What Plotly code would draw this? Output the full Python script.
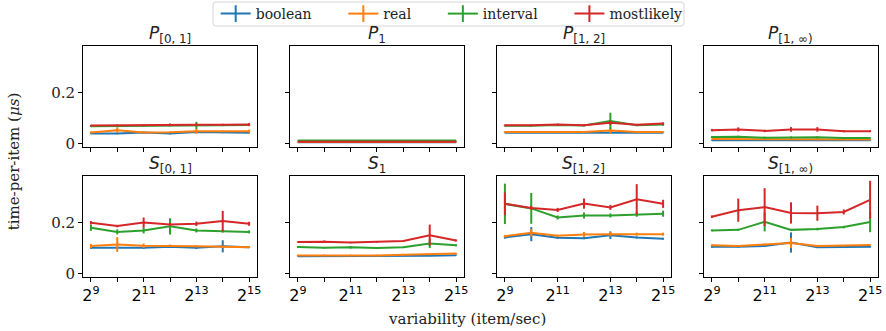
import math
import plotly.graph_objects as go
from plotly.subplots import make_subplots

# x axis: variability in items per second
variability = [512, 1024, 2048, 4096, 8192, 16384, 32768]
tick_text = ["2<sup>9</sup>", "", "2<sup>11</sup>", "", "2<sup>13</sup>", "", "2<sup>15</sup>"]

series_names = ["boolean", "real", "interval", "mostlikely"]
series_colors = ["#1f77b4", "#ff7f0e", "#2ca02c", "#d62728"]

panel_titles = [
    "<i>P</i><sub>[0, 1]</sub>", "<i>P</i><sub>1</sub>",
    "<i>P</i><sub>[1, 2]</sub>", "<i>P</i><sub>[1, ∞)</sub>",
    "<i>S</i><sub>[0, 1]</sub>", "<i>S</i><sub>1</sub>",
    "<i>S</i><sub>[1, 2]</sub>", "<i>S</i><sub>[1, ∞)</sub>",
]

# time-per-item (µs), mean and error, per panel and series
p01_boolean = [0.039, 0.039, 0.043, 0.039, 0.045, 0.043, 0.042]
p01_boolean_err = [0.003, 0.003, 0.003, 0.003, 0.003, 0.003, 0.003]
p01_real = [0.043, 0.052, 0.043, 0.044, 0.048, 0.047, 0.048]
p01_real_err = [0.004, 0.010, 0.003, 0.003, 0.010, 0.003, 0.006]
p01_interval = [0.067, 0.068, 0.069, 0.070, 0.071, 0.071, 0.072]
p01_interval_err = [0.003, 0.005, 0.003, 0.003, 0.014, 0.003, 0.003]
p01_mostlikely = [0.070, 0.071, 0.071, 0.074, 0.073, 0.073, 0.074]
p01_mostlikely_err = [0.003, 0.003, 0.003, 0.004, 0.005, 0.004, 0.006]

p1_boolean = [0.004, 0.004, 0.004, 0.004, 0.004, 0.004, 0.004]
p1_boolean_err = [0.001, 0.001, 0.001, 0.001, 0.001, 0.001, 0.001]
p1_real = [0.005, 0.005, 0.005, 0.005, 0.005, 0.005, 0.005]
p1_real_err = [0.001, 0.001, 0.001, 0.001, 0.001, 0.001, 0.001]
p1_interval = [0.011, 0.011, 0.011, 0.011, 0.011, 0.011, 0.011]
p1_interval_err = [0.001, 0.001, 0.001, 0.001, 0.001, 0.001, 0.001]
p1_mostlikely = [0.006, 0.006, 0.006, 0.006, 0.006, 0.006, 0.006]
p1_mostlikely_err = [0.001, 0.001, 0.001, 0.001, 0.001, 0.001, 0.001]

p12_boolean = [0.042, 0.042, 0.042, 0.042, 0.044, 0.042, 0.042]
p12_boolean_err = [0.002, 0.002, 0.002, 0.002, 0.003, 0.002, 0.002]
p12_real = [0.045, 0.045, 0.045, 0.045, 0.051, 0.045, 0.045]
p12_real_err = [0.003, 0.003, 0.003, 0.003, 0.012, 0.003, 0.003]
p12_interval = [0.069, 0.069, 0.072, 0.070, 0.088, 0.071, 0.074]
p12_interval_err = [0.003, 0.003, 0.003, 0.003, 0.033, 0.003, 0.005]
p12_mostlikely = [0.071, 0.071, 0.074, 0.071, 0.081, 0.073, 0.078]
p12_mostlikely_err = [0.003, 0.003, 0.004, 0.003, 0.008, 0.004, 0.005]

p1inf_boolean = [0.012, 0.012, 0.012, 0.012, 0.012, 0.012, 0.012]
p1inf_boolean_err = [0.002, 0.002, 0.002, 0.002, 0.002, 0.002, 0.002]
p1inf_real = [0.017, 0.017, 0.016, 0.016, 0.016, 0.015, 0.015]
p1inf_real_err = [0.002, 0.002, 0.002, 0.002, 0.002, 0.002, 0.002]
p1inf_interval = [0.025, 0.026, 0.022, 0.023, 0.024, 0.021, 0.021]
p1inf_interval_err = [0.004, 0.004, 0.004, 0.004, 0.004, 0.003, 0.003]
p1inf_mostlikely = [0.052, 0.055, 0.049, 0.055, 0.055, 0.048, 0.048]
p1inf_mostlikely_err = [0.005, 0.008, 0.005, 0.009, 0.009, 0.004, 0.004]

s01_boolean = [0.101, 0.101, 0.101, 0.105, 0.101, 0.107, 0.103]
s01_boolean_err = [0.004, 0.004, 0.004, 0.004, 0.005, 0.024, 0.003]
s01_real = [0.108, 0.114, 0.109, 0.109, 0.107, 0.105, 0.103]
s01_real_err = [0.008, 0.029, 0.009, 0.005, 0.004, 0.005, 0.003]
s01_interval = [0.180, 0.164, 0.170, 0.186, 0.170, 0.167, 0.164]
s01_interval_err = [0.012, 0.010, 0.012, 0.032, 0.008, 0.006, 0.006]
s01_mostlikely = [0.200, 0.187, 0.201, 0.193, 0.196, 0.207, 0.196]
s01_mostlikely_err = [0.007, 0.005, 0.020, 0.006, 0.009, 0.040, 0.008]

s1_boolean = [0.068, 0.068, 0.068, 0.068, 0.070, 0.070, 0.072]
s1_boolean_err = [0.002, 0.002, 0.002, 0.002, 0.002, 0.002, 0.002]
s1_real = [0.071, 0.071, 0.071, 0.071, 0.074, 0.075, 0.078]
s1_real_err = [0.003, 0.003, 0.003, 0.003, 0.003, 0.003, 0.003]
s1_interval = [0.104, 0.101, 0.103, 0.100, 0.103, 0.118, 0.111]
s1_interval_err = [0.004, 0.003, 0.005, 0.003, 0.003, 0.018, 0.004]
s1_mostlikely = [0.124, 0.125, 0.122, 0.124, 0.128, 0.151, 0.130]
s1_mostlikely_err = [0.003, 0.005, 0.003, 0.003, 0.003, 0.042, 0.004]

s12_boolean = [0.142, 0.155, 0.141, 0.139, 0.151, 0.142, 0.137]
s12_boolean_err = [0.005, 0.028, 0.004, 0.004, 0.015, 0.004, 0.004]
s12_real = [0.147, 0.161, 0.149, 0.154, 0.155, 0.155, 0.155]
s12_real_err = [0.005, 0.015, 0.004, 0.010, 0.008, 0.006, 0.006]
s12_interval = [0.275, 0.257, 0.221, 0.229, 0.229, 0.234, 0.236]
s12_interval_err = [0.080, 0.061, 0.008, 0.012, 0.008, 0.010, 0.012]
s12_mostlikely = [0.275, 0.259, 0.251, 0.276, 0.261, 0.293, 0.275]
s12_mostlikely_err = [0.045, 0.008, 0.008, 0.020, 0.010, 0.060, 0.016]

s1inf_boolean = [0.105, 0.105, 0.108, 0.122, 0.103, 0.103, 0.105]
s1inf_boolean_err = [0.004, 0.003, 0.004, 0.040, 0.003, 0.003, 0.003]
s1inf_real = [0.111, 0.108, 0.114, 0.120, 0.108, 0.109, 0.112]
s1inf_real_err = [0.004, 0.003, 0.004, 0.020, 0.004, 0.003, 0.003]
s1inf_interval = [0.170, 0.172, 0.204, 0.172, 0.175, 0.183, 0.203]
s1inf_interval_err = [0.004, 0.004, 0.038, 0.004, 0.005, 0.005, 0.040]
s1inf_mostlikely = [0.224, 0.250, 0.262, 0.239, 0.238, 0.243, 0.291]
s1inf_mostlikely_err = [0.005, 0.046, 0.075, 0.042, 0.030, 0.010, 0.075]

panels = [
    [(p01_boolean, p01_boolean_err), (p01_real, p01_real_err),
     (p01_interval, p01_interval_err), (p01_mostlikely, p01_mostlikely_err)],
    [(p1_boolean, p1_boolean_err), (p1_real, p1_real_err),
     (p1_interval, p1_interval_err), (p1_mostlikely, p1_mostlikely_err)],
    [(p12_boolean, p12_boolean_err), (p12_real, p12_real_err),
     (p12_interval, p12_interval_err), (p12_mostlikely, p12_mostlikely_err)],
    [(p1inf_boolean, p1inf_boolean_err), (p1inf_real, p1inf_real_err),
     (p1inf_interval, p1inf_interval_err), (p1inf_mostlikely, p1inf_mostlikely_err)],
    [(s01_boolean, s01_boolean_err), (s01_real, s01_real_err),
     (s01_interval, s01_interval_err), (s01_mostlikely, s01_mostlikely_err)],
    [(s1_boolean, s1_boolean_err), (s1_real, s1_real_err),
     (s1_interval, s1_interval_err), (s1_mostlikely, s1_mostlikely_err)],
    [(s12_boolean, s12_boolean_err), (s12_real, s12_real_err),
     (s12_interval, s12_interval_err), (s12_mostlikely, s12_mostlikely_err)],
    [(s1inf_boolean, s1inf_boolean_err), (s1inf_real, s1inf_real_err),
     (s1inf_interval, s1inf_interval_err), (s1inf_mostlikely, s1inf_mostlikely_err)],
]

SERIF = "DejaVu Serif"
SANS = "DejaVu Sans"

fig = make_subplots(
    rows=2, cols=4,
    horizontal_spacing=0.0415, vertical_spacing=0.126,
    subplot_titles=panel_titles,
)

for idx, panel in enumerate(panels):
    row, col = idx // 4 + 1, idx % 4 + 1
    for (mean, err), name, color in zip(panel, series_names, series_colors):
        fig.add_trace(
            go.Scatter(
                x=variability, y=mean, mode="lines", name=name,
                line=dict(color=color, width=2),
                error_y=dict(type="data", array=err, visible=True,
                             color=color, thickness=2, width=0),
                showlegend=False,
            ),
            row=row, col=col,
        )

# legend entries drawn as a line with a vertical error tick;
# non-breaking spaces widen the gap between entries
for i, (name, color) in enumerate(zip(series_names, series_colors)):
    pad = "\u00a0" * 6 if i < len(series_names) - 1 else ""
    fig.add_trace(
        go.Scatter(
            x=[None], y=[None], mode="lines+markers", name=name + pad,
            line=dict(color=color, width=2),
            marker=dict(symbol="line-ns", size=12,
                        line=dict(color=color, width=2)),
            showlegend=True,
        ),
        row=1, col=1,
    )

x_range = [math.log10(2 ** 8.7), math.log10(2 ** 15.3)]
axis_common = dict(
    showline=True, mirror=True, linecolor="black", linewidth=1,
    ticks="outside", ticklen=4, tickwidth=1, tickcolor="black",
    showgrid=False, zeroline=False,
)

for i in range(1, 9):
    row = (i - 1) // 4 + 1
    col = (i - 1) % 4 + 1
    fig.update_xaxes(
        type="log", range=x_range, tickvals=variability, ticktext=tick_text,
        showticklabels=(row == 2),
        tickfont=dict(family=SANS, size=16, color="black"),
        row=row, col=col, **axis_common,
    )
    fig.update_yaxes(
        range=[-0.0145, 0.385], tickvals=[0, 0.2], ticktext=["0", "0.2"],
        showticklabels=(col == 1),
        tickfont=dict(family=SERIF, size=15, color="#222222"),
        row=row, col=col, **axis_common,
    )

for ann in fig.layout.annotations:
    ann.font = dict(family=SANS, size=17, color="#222222")
    ann.yshift = -2

fig.add_annotation(
    text="time-per-item (<i>μs</i>)", xref="paper", yref="paper",
    x=-0.087, y=0.5, textangle=-90, showarrow=False,
    font=dict(family=SERIF, size=15, color="#222222"),
    xanchor="center", yanchor="middle",
)
fig.add_annotation(
    text="variability (item/sec)", xref="paper", yref="paper",
    x=0.483, y=-0.18, showarrow=False,
    font=dict(family=SERIF, size=15, color="#222222"),
    xanchor="center", yanchor="middle",
)

# rounded legend frame
px_w, px_h = 795.0, 231.0
lx0, lx1 = (213 - 83) / px_w, (684 - 83) / px_w
ly0, ly1 = (277 - 26) / px_h, (277 - 2) / px_h
rx, ry = 3 / px_w, 3 / px_h
frame_path = (
    f"M {lx0 + rx},{ly1} L {lx1 - rx},{ly1} Q {lx1},{ly1} {lx1},{ly1 - ry} "
    f"L {lx1},{ly0 + ry} Q {lx1},{ly0} {lx1 - rx},{ly0} "
    f"L {lx0 + rx},{ly0} Q {lx0},{ly0} {lx0},{ly0 + ry} "
    f"L {lx0},{ly1 - ry} Q {lx0},{ly1} {lx0 + rx},{ly1} Z"
)
fig.add_shape(
    type="path", path=frame_path, xref="paper", yref="paper",
    line=dict(color="#d6d6d6", width=1), fillcolor="white", layer="below",
)

fig.update_layout(
    width=886, height=331,
    margin=dict(l=83, r=8, t=46, b=54, autoexpand=False),
    plot_bgcolor="white", paper_bgcolor="white",
    legend=dict(
        orientation="h", x=(448.5 - 83) / px_w + 0.004, xanchor="center",
        y=(277 - 14) / px_h, yanchor="middle",
        font=dict(family=SERIF, size=14, color="#222222"),
        borderwidth=0, bgcolor="rgba(0,0,0,0)",
        itemwidth=30, tracegroupgap=0,
    ),
)

fig.write_html("out.html")
